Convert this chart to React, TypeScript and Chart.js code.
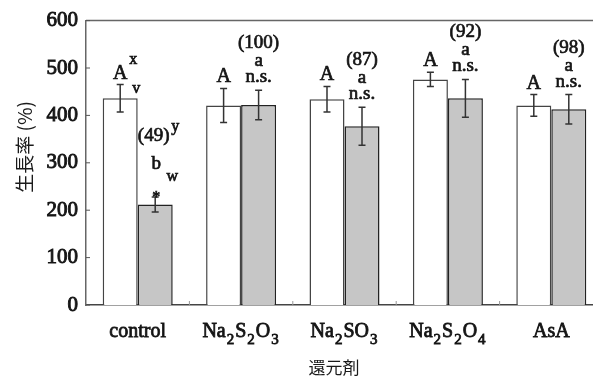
import React, { useEffect, useRef } from "react";
import { Chart, registerables } from "chart.js";

Chart.register(...registerables);

// ---- data ----
const categories = ["control", "Na₂S₂O₃", "Na₂SO₃", "Na₂S₂O₄", "AsA"];
const seriesNames = ["−", "+"];
const whiteValues = [436, 421, 434, 476, 421];
const whiteErrors = [29, 36, 27, 15, 23];
const grayValues = [212, 422, 377, 436, 413];
const grayErrors = [16, 31, 40, 40, 31];
const yTicks = [0, 100, 200, 300, 400, 500, 600];

const whiteLetters = ["A", "A", "A", "A", "A"];
const whiteSup = ["x", "", "", "", ""];
const whiteSub = ["v", "", "", "", ""];
const grayPercent = ["(49)", "(100)", "(87)", "(92)", "(98)"];
const grayPercentSup = ["y", "", "", "", ""];
const grayLetters = ["b", "a", "a", "a", "a"];
const grayLetterSub = ["w", "", "", "", ""];
const graySig = ["*", "n.s.", "n.s.", "n.s.", "n.s."];

const yTitle = "生長率 (%)";
const xTitle = "還元剤";

const SERIF = '"Liberation Serif", "DejaVu Serif", serif';
const CJK = '"Noto Sans CJK JP", "Noto Sans CJK SC", sans-serif';
const SUBS: Record<string, string> = { "₀": "0", "₁": "1", "₂": "2", "₃": "3", "₄": "4", "₅": "5", "₆": "6", "₇": "7", "₈": "8", "₉": "9" };
const INK = "#151515";

function heavyText(ctx: CanvasRenderingContext2D, t: string, x: number, y: number, sw = 0.7) {
  ctx.fillText(t, x, y);
  ctx.lineWidth = sw;
  ctx.strokeStyle = INK;
  ctx.strokeText(t, x, y);
}

function drawChem(ctx: CanvasRenderingContext2D, text: string, cx: number, baseline: number) {
  const parts: { t: string; sub: boolean }[] = [];
  for (const ch of Array.from(text)) {
    const sub = ch in SUBS;
    const t = sub ? SUBS[ch] : ch;
    const last = parts[parts.length - 1];
    if (last && last.sub === sub) last.t += t;
    else parts.push({ t, sub });
  }
  const mainFont = `20px ${SERIF}`;
  const subFont = `15px ${SERIF}`;
  let total = 0;
  const widths: number[] = [];
  for (const p of parts) {
    ctx.font = p.sub ? subFont : mainFont;
    const w = ctx.measureText(p.t).width + (p.sub ? 2 : 0);
    widths.push(w);
    total += w;
  }
  let x = cx - total / 2;
  ctx.textAlign = "left";
  ctx.textBaseline = "alphabetic";
  parts.forEach((p, i) => {
    ctx.font = p.sub ? subFont : mainFont;
    heavyText(ctx, p.t, x + (p.sub ? 1 : 0), baseline + (p.sub ? 7 : 0), 0.8);
    x += widths[i];
  });
}

const overlayPlugin = {
  id: "overlay",
  afterDatasetsDraw(chart: any) {
    const { ctx, chartArea, scales } = chart;
    const y = scales.y;
    const x = scales.x;
    ctx.save();

    // top frame line
    ctx.strokeStyle = "#666";
    ctx.lineWidth = 1.5;
    ctx.beginPath();
    ctx.moveTo(chartArea.left, chartArea.top);
    ctx.lineTo(chart.width, chartArea.top);
    ctx.stroke();

    // inner y ticks
    ctx.strokeStyle = "#555";
    ctx.lineWidth = 1;
    for (const v of yTicks) {
      const py = y.getPixelForValue(v);
      ctx.beginPath();
      ctx.moveTo(chartArea.left, py);
      ctx.lineTo(chartArea.left + 4, py);
      ctx.stroke();
    }
    // inner x ticks at category boundaries
    ctx.strokeStyle = "#999";
    for (let i = 1; i < categories.length; i++) {
      const px = (x.getPixelForValue(i - 1) + x.getPixelForValue(i)) / 2;
      ctx.beginPath();
      ctx.moveTo(px, chartArea.bottom);
      ctx.lineTo(px, chartArea.bottom - 4);
      ctx.stroke();
    }

    // error bars
    const sets = [
      { vals: whiteValues, errs: whiteErrors, idx: 0 },
      { vals: grayValues, errs: grayErrors, idx: 1 },
    ];
    ctx.strokeStyle = "#333";
    ctx.lineWidth = 1.5;
    for (const s of sets) {
      const meta = chart.getDatasetMeta(s.idx);
      meta.data.forEach((bar: any, i: number) => {
        const cx = bar.x;
        const t = y.getPixelForValue(s.vals[i] + s.errs[i]);
        const b = y.getPixelForValue(s.vals[i] - s.errs[i]);
        ctx.beginPath();
        ctx.moveTo(cx, t);
        ctx.lineTo(cx, b);
        ctx.moveTo(cx - 3.5, t);
        ctx.lineTo(cx + 3.5, t);
        ctx.moveTo(cx - 3.5, b);
        ctx.lineTo(cx + 3.5, b);
        ctx.stroke();
      });
    }

    // annotations
    ctx.fillStyle = INK;
    ctx.textBaseline = "alphabetic";
    ctx.textAlign = "center";
    const big = `19px ${SERIF}`;
    const small = `16px ${SERIF}`;
    const wMeta = chart.getDatasetMeta(0);
    const gMeta = chart.getDatasetMeta(1);
    categories.forEach((_, i) => {
      // white bar labels
      const wx = wMeta.data[i].x;
      const wTop = y.getPixelForValue(whiteValues[i] + whiteErrors[i]);
      ctx.font = `20px ${SERIF}`;
      heavyText(ctx, whiteLetters[i], wx, wTop - 6);
      if (whiteSup[i]) {
        ctx.font = small;
        heavyText(ctx, whiteSup[i], wx + 13, wTop - 21);
      }
      if (whiteSub[i]) {
        ctx.font = small;
        heavyText(ctx, whiteSub[i], wx + 16, wTop + 8);
      }
      // gray bar labels
      const gx = gMeta.data[i].x;
      const gTop = y.getPixelForValue(grayValues[i] + grayErrors[i]);
      if (graySig[i] === "*") {
        ctx.font = small;
        heavyText(ctx, graySig[i], gx + 1, gTop + 5);
        ctx.font = big;
        heavyText(ctx, grayLetters[i], gx + 1, gTop - 28);
        if (grayLetterSub[i]) {
          ctx.font = small;
          heavyText(ctx, grayLetterSub[i], gx + 17, gTop - 16);
        }
        ctx.font = big;
        heavyText(ctx, grayPercent[i], gx - 1.5, gTop - 56);
        if (grayPercentSup[i]) {
          ctx.font = small;
          heavyText(ctx, grayPercentSup[i], gx + 20, gTop - 66);
        }
      } else {
        ctx.font = big;
        heavyText(ctx, graySig[i], gx, gTop - 8);
        heavyText(ctx, grayLetters[i], gx, gTop - 24);
        heavyText(ctx, grayPercent[i], gx, gTop - 42);
      }
    });

    // x category labels
    ctx.fillStyle = INK;
    categories.forEach((c, i) => {
      drawChem(ctx, c, x.getPixelForValue(i), 337);
    });

    // axis titles
    ctx.fillStyle = "#1a1a1a";
    ctx.font = `17px ${CJK}`;
    ctx.textAlign = "center";
    ctx.textBaseline = "middle";
    ctx.fillText(xTitle, 334, 368);
    ctx.save();
    ctx.translate(25, 147);
    ctx.rotate(-Math.PI / 2);
    ctx.font = `19px ${CJK}`;
    ctx.fillText(yTitle, 0, 0);
    ctx.restore();

    ctx.restore();
  },
};

export default function App() {
  const ref = useRef<HTMLCanvasElement>(null);
  useEffect(() => {
    if (!ref.current) return;
    const chart = new Chart(ref.current, {
      type: "bar",
      data: {
        labels: categories,
        datasets: [
          {
            label: seriesNames[0],
            data: whiteValues,
            backgroundColor: "#ffffff",
            borderColor: "#444",
            borderWidth: 1.5,
            categoryPercentage: 0.677,
            barPercentage: 1,
          },
          {
            label: seriesNames[1],
            data: grayValues,
            backgroundColor: "#c6c6c6",
            borderColor: "#222",
            borderWidth: 1.5,
            categoryPercentage: 0.677,
            barPercentage: 1,
          },
        ],
      },
      options: {
        animation: false,
        responsive: false,
        devicePixelRatio: 1,
        layout: { padding: { top: 20, right: 7, left: 0, bottom: 0 } },
        plugins: { legend: { display: false }, tooltip: { enabled: false }, title: { display: false } },
        scales: {
          x: {
            grid: { display: false },
            border: { display: true, color: "#444", width: 1.5 },
            ticks: { display: false },
            afterFit: (s: any) => {
              s.height = 75;
            },
          },
          y: {
            min: 0,
            max: 600,
            grid: { display: false, drawTicks: false },
            border: { display: true, color: "#666", width: 1.5 },
            afterBuildTicks: (s: any) => {
              s.ticks = yTicks.map((v) => ({ value: v }));
            },
            ticks: {
              padding: 8,
              color: INK,
              textStrokeColor: INK,
              textStrokeWidth: 0.9,
              font: { family: SERIF, size: 21 },
            },
            afterFit: (s: any) => {
              s.width = 86;
            },
          },
        },
      },
      plugins: [overlayPlugin],
    });
    return () => chart.destroy();
  }, []);
  return (
    <div style={{ position: "absolute", left: 0, top: 0, width: 593, height: 380, overflow: "hidden", background: "#fff" }}>
      <canvas ref={ref} width={610} height={380} style={{ display: "block" }} />
    </div>
  );
}
